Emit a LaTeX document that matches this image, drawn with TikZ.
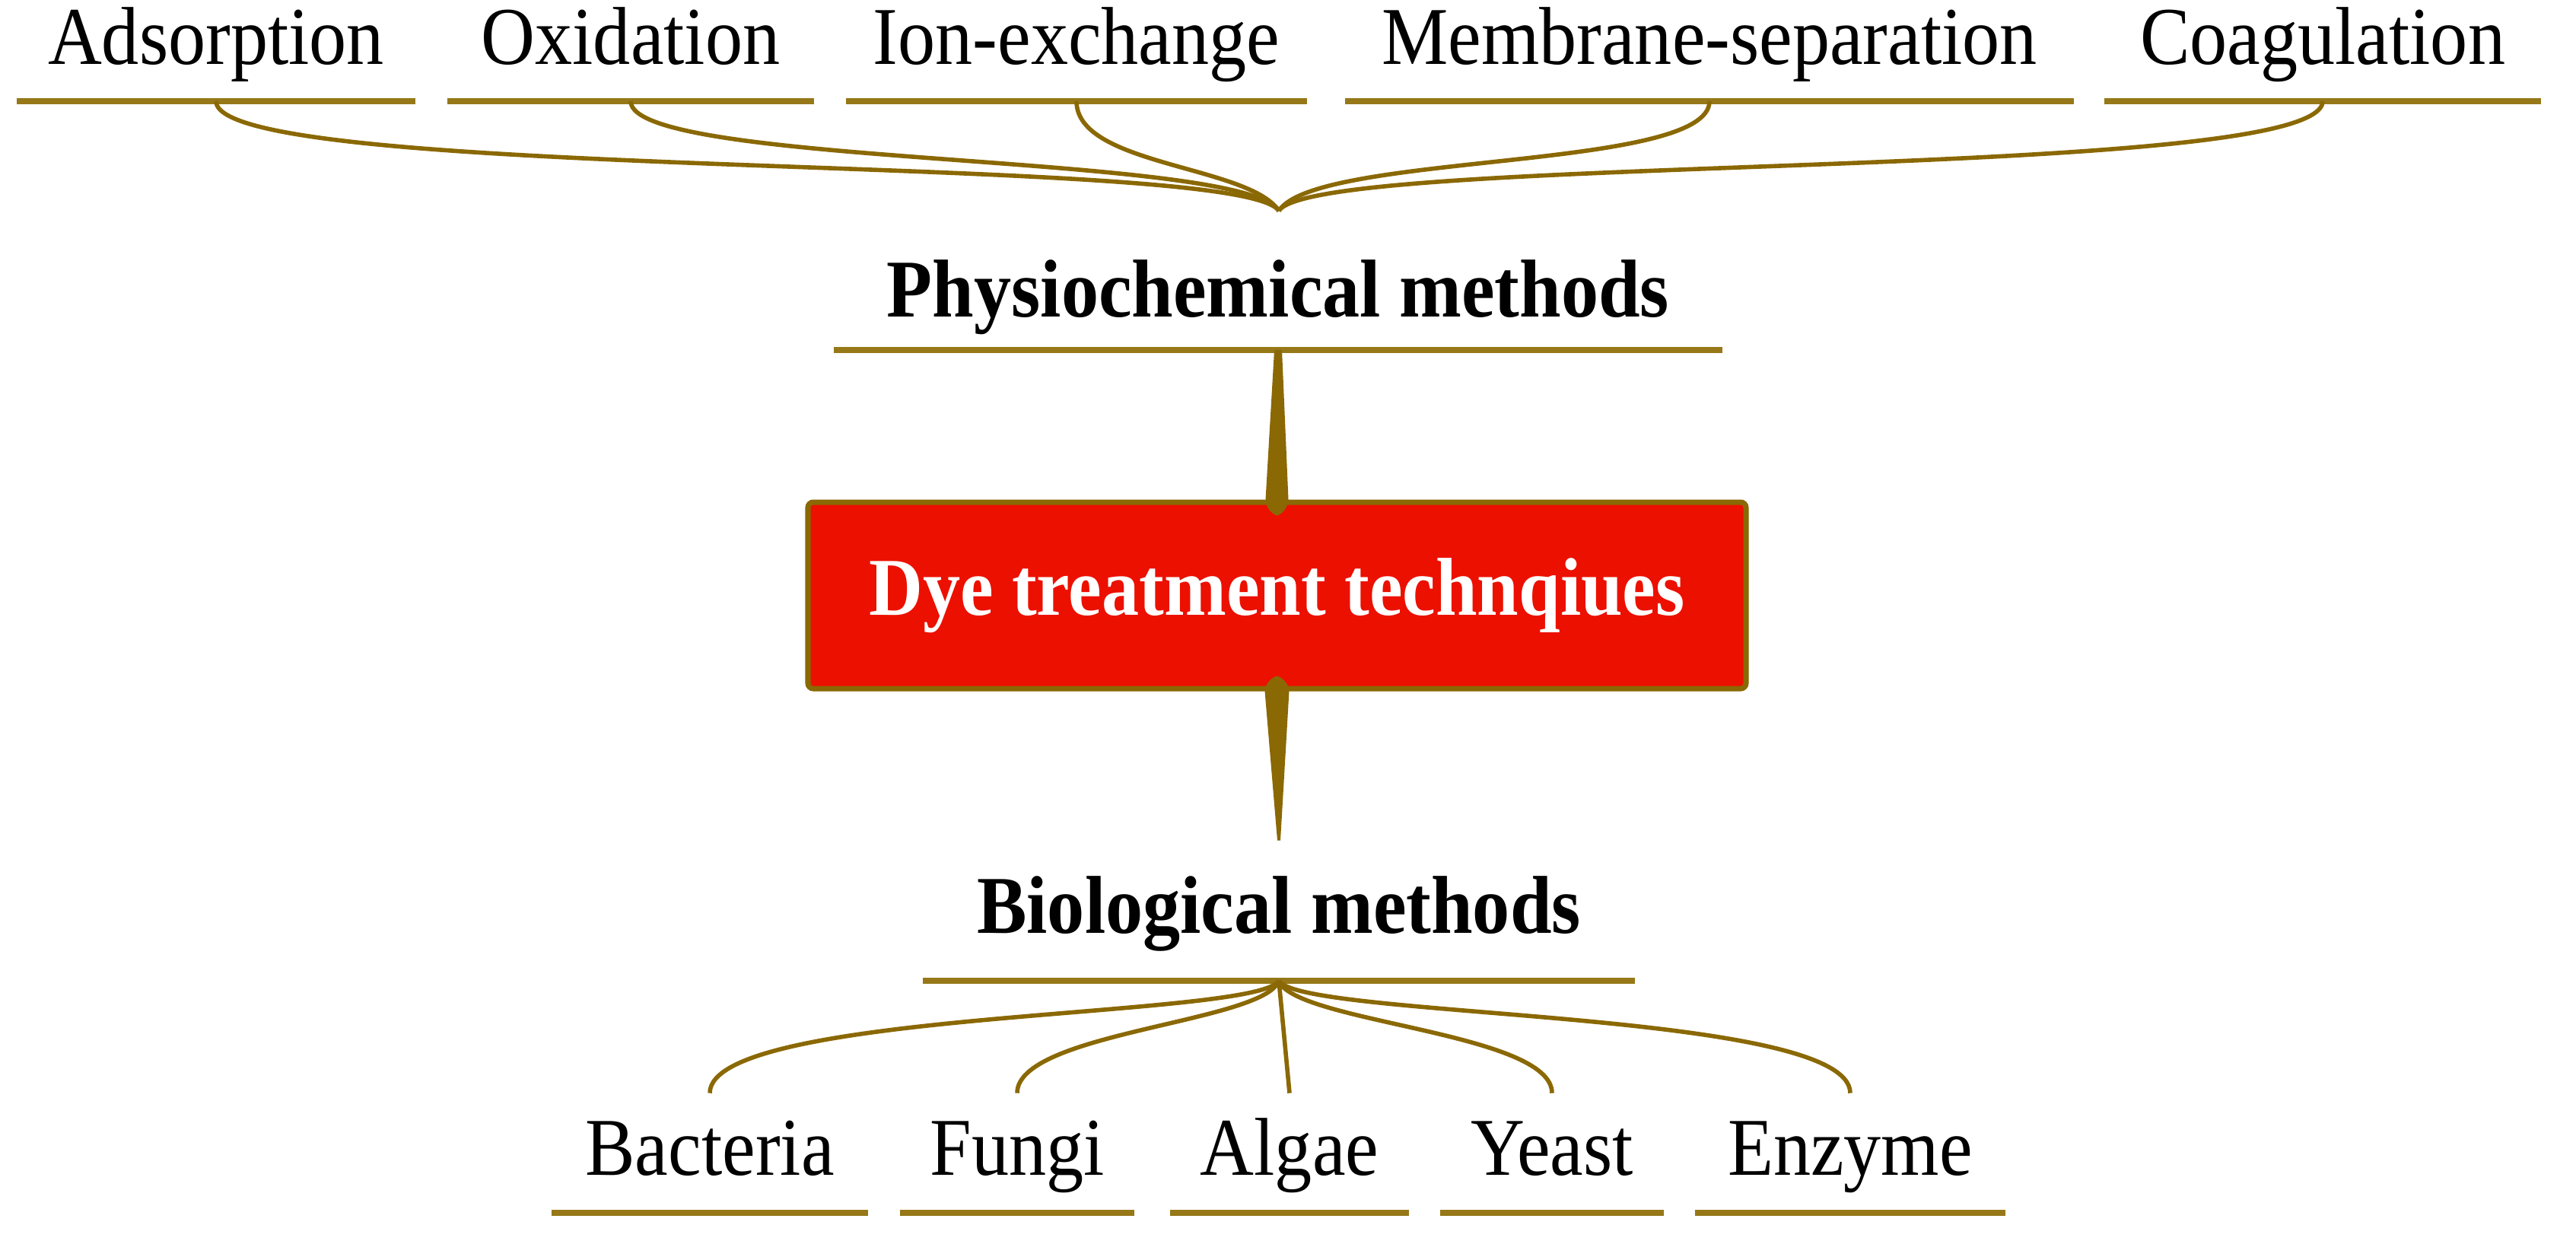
\documentclass[tikz,border=0pt]{standalone}
\usepackage{fontspec}
\setmainfont{Liberation Serif}[FakeStretch=0.91]

\definecolor{olivebr}{RGB}{138,104,4}
\definecolor{lineol}{RGB}{150,120,24}
\definecolor{dyered}{RGB}{236,16,0}

\tikzset{
  toptxt/.style={anchor=south, inner sep=0pt, text depth=0.48cm,
    font=\fontsize{30.7}{36}\selectfont},
  bottxt/.style={anchor=south, inner sep=0pt, text height=1.07cm, text depth=0.49cm,
    font=\fontsize{30.7}{36}\selectfont},
  midtxt/.style={anchor=south, inner sep=0pt,
    font=\fontsize{30.7}{36}\selectfont\bfseries},
  dyebox/.style={draw=olivebr, line width=2pt, fill=dyered, text=white,
    rounded corners=2pt, minimum width=12.33cm, minimum height=2.45cm,
    font=\fontsize{30.7}{36}\selectfont\bfseries},
  uline/.style={draw=lineol, line width=2.3pt},
  branch/.style={draw=olivebr, line width=1.6pt}
}

\begin{document}
\begin{tikzpicture}
\useasboundingbox (0,0) rectangle (33.86,-16.30);

% Top row
\foreach \n/\x/\w/\t in {ads/2.84/5.22/Adsorption, oxi/8.29/4.80/Oxidation,
    ion/14.15/6.05/Ion-exchange, mem/22.47/9.56/Membrane-separation,
    coa/30.53/5.72/Coagulation} {
  \node[toptxt, minimum width=\w cm] (\n) at (\x,-1.33) {\t};
  \draw[uline] (\n.south west) -- (\n.south east);
}

% Brace into one point
\coordinate (hub) at (16.81,-2.77);
\draw[branch] (ads.south) .. controls +(0,-1.07) and +(-0.51,0.77) .. (hub);
\draw[branch] (oxi.south) .. controls +(0,-0.87) and +(-0.51,0.77) .. (hub);
\draw[branch] (ion.south) .. controls +(0,-0.85) and +(-0.4,0.6) .. (hub);
\draw[branch] (mem.south) .. controls +(0,-0.92) and +(0.49,0.77) .. (hub);
\draw[branch] (coa.south) .. controls +(0,-1.07) and +(0.49,0.77) .. (hub);

% Middle
\node[midtxt, text depth=0.43cm, minimum width=11.67cm] (phys) at (16.80,-4.60) {Physiochemical methods};
\draw[uline] (phys.south west) -- (phys.south east);
\node[dyebox] (dye) at (16.785,-7.825) {Dye treatment technqiues};
\node[midtxt, text height=1.21cm, text depth=0.62cm, minimum width=9.35cm] (bio) at (16.81,-12.89) {Biological methods};
\draw[uline] (bio.south west) -- (bio.south east);

% Stems
\fill[olivebr] ([xshift=-0.05cm]phys.south) -- ([xshift=-0.15cm]dye.north)
  .. controls ([xshift=-0.15cm,yshift=-0.1cm]dye.north) and ([xshift=-0.06cm,yshift=-0.2cm]dye.north) .. ([yshift=-0.21cm]dye.north)
  .. controls ([xshift=0.06cm,yshift=-0.2cm]dye.north) and ([xshift=0.15cm,yshift=-0.1cm]dye.north) .. ([xshift=0.15cm]dye.north)
  -- ([xshift=0.05cm]phys.south) -- cycle;
\fill[olivebr] ([xshift=-0.02cm]bio.north) -- ([xshift=-0.16cm]dye.south)
  .. controls ([xshift=-0.16cm,yshift=0.1cm]dye.south) and ([xshift=-0.06cm,yshift=0.19cm]dye.south) .. ([yshift=0.2cm]dye.south)
  .. controls ([xshift=0.06cm,yshift=0.19cm]dye.south) and ([xshift=0.16cm,yshift=0.1cm]dye.south) .. ([xshift=0.16cm]dye.south)
  -- ([xshift=0.02cm]bio.north) -- cycle;

% Bottom row
\foreach \n/\x/\w/\t in {bac/9.33/4.14/Bacteria, fun/13.37/3.06/Fungi,
    alg/16.95/3.13/Algae, yea/20.40/2.92/Yeast, enz/24.32/4.06/Enzyme} {
  \node[bottxt, minimum width=\w cm] (\n) at (\x,-15.94) {\t};
  \draw[uline] (\n.south west) -- (\n.south east);
}

\draw[branch] (bio.south) .. controls +(-0.3,-0.5) and +(0,1.1) .. (bac.north);
\draw[branch] (bio.south) .. controls +(-0.2,-0.55) and +(0,0.8) .. (fun.north);
\draw[branch] (bio.south) -- (alg.north);
\draw[branch] (bio.south) .. controls +(0.2,-0.55) and +(0,0.8) .. (yea.north);
\draw[branch] (bio.south) .. controls +(0.3,-0.5) and +(0,1.1) .. (enz.north);
\end{tikzpicture}
\end{document}
